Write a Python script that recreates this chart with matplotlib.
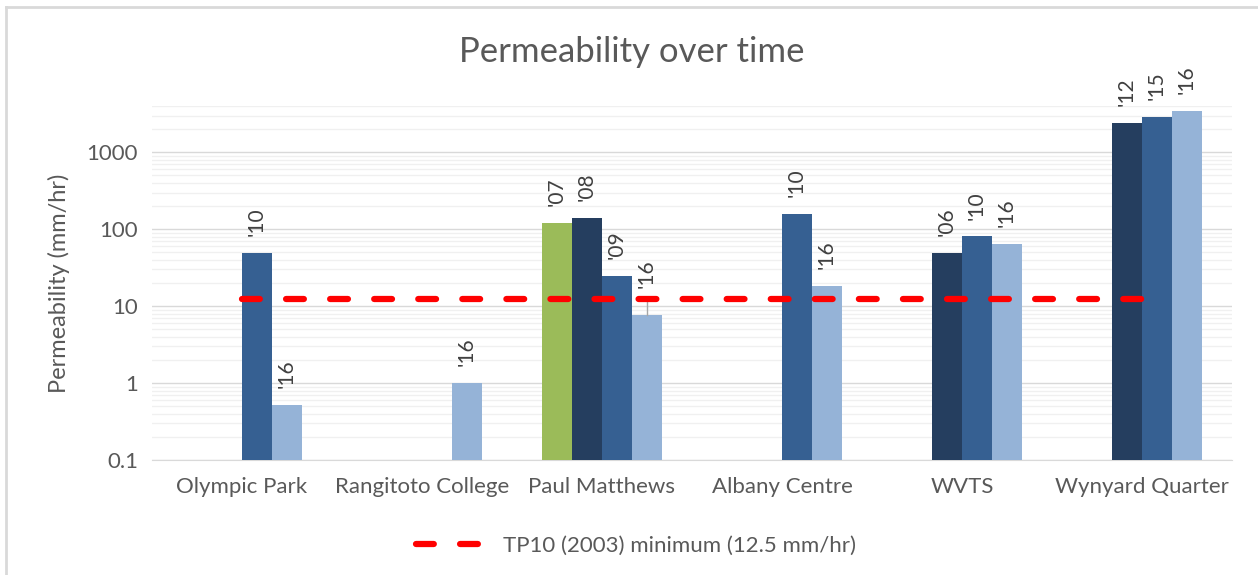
import numpy as np
import matplotlib.pyplot as plt
from matplotlib.lines import Line2D
from matplotlib.ticker import LogLocator, FixedLocator, NullFormatter

plt.rcParams['font.family'] = ['Lato', 'DejaVu Sans']

sites = ['Olympic Park', 'Rangitoto College', 'Paul Matthews', 'Albany Centre', 'WVTS', 'Wynyard Quarter']

# four bar slots per site, NaN = no bar
green_vals = [np.nan, np.nan, 120, np.nan, np.nan, np.nan]
dark_vals = [np.nan, np.nan, 140, np.nan, 49, 2400]
mid_vals = [49, np.nan, 24.7, 157, 81, 2900]
light_vals = [0.52, 1.0, 7.6, 18.2, 65, 3470]

green_lbl = ['', '', "'07", '', '', '']
dark_lbl = ['', '', "'08", '', "'06", "'12"]
mid_lbl = ["'10", '', "'09", "'10", "'10", "'15"]
light_lbl = ["'16", "'16", "'16", "'16", "'16", "'16"]

tp10_min = 12.5
pm16_err_top = 12.7

series = [
    (green_vals, green_lbl, '#9BBB59'),
    (dark_vals, dark_lbl, '#253E5F'),
    (mid_vals, mid_lbl, '#366092'),
    (light_vals, light_lbl, '#95B3D7'),
]

fig = plt.figure(figsize=(12.58, 5.75), dpi=100)
ax = fig.add_axes([152/1258, 1 - 460/575, 1080/1258, 354/575])

x = np.arange(len(sites))
w = 1/6
offsets = [-1.5, -0.5, 0.5, 1.5]

for (vals, lbls, col), off in zip(series, offsets):
    v = np.array(vals, dtype=float)
    ax.bar(x + off*w, np.nan_to_num(v, nan=0.0), width=w, color=col, zorder=3)
    for xi, val, lb in zip(x, v, lbls):
        if np.isnan(val) or not lb:
            continue
        # label sits above the error bar on Paul Matthews '16
        gap = 20 if (xi == 2 and off == 1.5) else 12
        ax.annotate(lb, (xi + off*w, val), xytext=(0, gap), textcoords='offset points',
                    rotation=90, ha='center', va='bottom', fontsize=15,
                    color='#404040', zorder=5, annotation_clip=False)

# small error bar on Paul Matthews '16
ax.plot([2 + 1.5*w, 2 + 1.5*w], [light_vals[2], pm16_err_top], color='#A6A6A6',
        lw=1, zorder=4)

line, = ax.plot(x, [tp10_min]*len(x), color='#FF0000', lw=4.5, ls=(0, (2.85, 4.2)),
                dash_capstyle='round', zorder=4,
                label='TP10 (2003) minimum (12.5 mm/hr)')

ax.set_yscale('log')
ax.set_ylim(0.1, 4000)
ax.set_xlim(-0.5, len(sites) - 0.5)
ax.yaxis.set_major_locator(FixedLocator([0.1, 1, 10, 100, 1000]))
ax.yaxis.set_minor_locator(LogLocator(base=10, subs=np.arange(2, 10)))
ax.yaxis.set_minor_formatter(NullFormatter())
ax.set_yticklabels(['0.1', '1', '10', '100', '1000'])
ax.grid(which='major', axis='y', color='#D9D9D9', lw=1, zorder=0)
ax.grid(which='minor', axis='y', color='#F0F0F0', lw=1, zorder=0)
ax.set_xticks(x)
ax.set_xticklabels(sites)
ax.tick_params(axis='both', which='both', length=0, labelsize=16, colors='#595959')
ax.tick_params(axis='x', pad=12)
ax.tick_params(axis='y', pad=10)
for s in ['top', 'right', 'left']:
    ax.spines[s].set_visible(False)
ax.spines['bottom'].set_color('#D9D9D9')

ax.set_ylabel('Permeability (mm/hr)', fontsize=17, color='#595959', labelpad=12)
fig.text(632/1258, 1 - 52/575, 'Permeability over time', ha='center', va='center',
         fontsize=25, color='#595959')

fig.legend(handles=[line], loc='center', bbox_to_anchor=(636/1258, 1 - 546/575),
           frameon=False, fontsize=16, handlelength=3.1, labelcolor='#595959')

# chart border (top and left edges visible)
fig.add_artist(Line2D([6/1258, 1], [1 - 7/575, 1 - 7/575], color='#D9D9D9', lw=2))
fig.add_artist(Line2D([6/1258, 6/1258], [0, 1 - 7/575], color='#D9D9D9', lw=2))

fig.savefig('out.png', dpi=100)
